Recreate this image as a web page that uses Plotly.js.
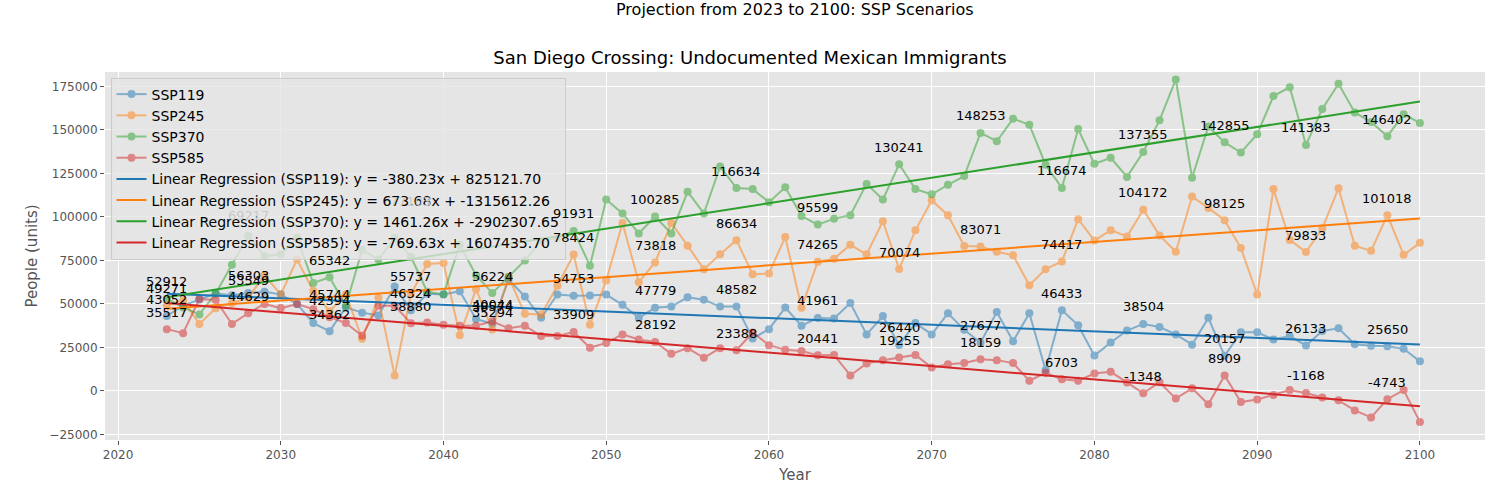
<!DOCTYPE html>
<html>
<head>
<meta charset="utf-8">
<script src="https://cdn.plot.ly/plotly-3.0.1.min.js"></script>
<style>body{margin:0;background:#fff}</style>
</head>
<body>
<div id="plot" style="width:1500px;height:500px"></div>
<script>
const years = Array.from({length: 78}, (_, i) => 2023 + i);

const ssp119 = [43052,49000,52500,56000,55000,56303,57000,55500,50000,39000,34362,48000,45000,43300,60000,46324,55800,55400,57300,41400,
  38574,64000,54300,42000,55400,54753,54900,55400,49500,42000,47779,48500,53800,52400,48500,48582,30200,35500,47900,37500,
  41961,41600,50500,32500,43000,26440,39000,32500,44600,35100,27677,45400,28600,44600,12000,46433,37700,20300,27800,34700,
  38504,36700,32500,26600,42000,20157,33700,33700,29600,31500,26133,34500,36000,26800,25900,25650,24200,17000];
const ssp245 = [49271,52000,38500,47500,50500,53549,66500,55500,75500,57500,45744,55500,30000,53500,8800,55737,73000,73500,32000,58500,
  35294,65500,44300,44000,60500,78424,38000,63500,96500,62500,73818,96500,83500,70000,78500,86634,67000,67500,88500,47800,
  74265,76000,84000,78500,97500,70074,92300,109500,101000,83300,83071,80000,78000,60700,70000,74417,98700,86400,92400,88800,
  104172,89400,80000,111700,105200,98125,82100,55400,116000,86800,79833,93300,116500,83400,80500,101018,78200,85100];
const ssp370 = [52912,48000,44000,56000,72500,89000,77500,78500,88000,62000,65342,49000,81000,75500,88000,77103,57000,55500,84000,66500,
  56224,65500,75000,86000,88000,91931,72000,110000,102000,90500,100285,90500,114500,102000,129000,116634,116000,108500,117000,100500,
  95599,99000,101000,119000,110000,130241,116000,113000,118500,123500,148253,143500,156500,153000,130000,116674,150500,130500,134000,123000,
  137355,155500,179000,122500,152000,142855,137000,147500,169500,174500,141383,162000,176500,160000,154500,146402,159000,154000];
const ssp585 = [35517,33200,52800,52300,38500,44629,50000,47600,50000,47000,42394,39000,31700,48900,48900,38880,39400,38100,37500,37500,
  40044,36000,37500,31500,31500,33909,24800,27600,32500,29600,28192,21300,24600,19000,24600,23388,33600,26300,23700,22900,
  20441,20700,8900,15800,17700,19255,20700,13400,15300,16000,18159,17700,16000,5900,10400,6703,5900,10000,11000,4900,
  -1348,5000,-4400,1500,-7700,8909,-6400,-4900,-2400,500,-1168,-3800,-5400,-11200,-15200,-4743,500,-17800];

const names = ['SSP119', 'SSP245', 'SSP370', 'SSP585'];
const colors = ['#1f77b4', '#ff7f0e', '#2ca02c', '#d62728'];
const slopes = [-380.23, 673.68, 1461.26, -769.63];
const intercepts = [825121.70, -1315612.26, -2902307.65, 1607435.70];

// value labels, every five years
const labelYears = [2023,2028,2033,2038,2043,2048,2053,2058,2063,2068,2073,2078,2083,2088,2093,2098];
const labels119 = [43052,56303,34362,46324,38574,54753,47779,48582,41961,26440,27677,46433,38504,20157,26133,25650];
const labels245 = [49271,53549,45744,55737,35294,78424,73818,86634,74265,70074,83071,74417,104172,98125,79833,101018];
const labels370 = [52912,69217,65342,77103,56224,91931,100285,116634,95599,130241,148253,116674,137355,142855,141383,146402];
const labels585 = [35517,44629,42394,38880,40044,33909,28192,23388,20441,19255,18159,6703,-1348,8909,-1168,-4743];
// labels that sit behind the legend box in the original
const hiddenLabels = [69217, 77103];

const series = [ssp119, ssp245, ssp370, ssp585];
const labelSets = [labels119, labels245, labels370, labels585];

const traces = [];
series.forEach((s, k) => {
    traces.push({
        type: 'scatter', mode: 'lines+markers', name: names[k],
        x: years, y: s, opacity: 0.5,
        line: {color: colors[k], width: 2},
        marker: {color: colors[k], size: 8}
    });
});
series.forEach((s, k) => {
    const xs = [years[0], years[years.length - 1]];
    traces.push({
        type: 'scatter', mode: 'lines',
        name: 'Linear Regression (' + names[k] + '): y = ' + slopes[k].toFixed(2) + 'x + ' + intercepts[k].toFixed(2),
        x: xs, y: xs.map(v => slopes[k] * v + intercepts[k]),
        line: {color: colors[k], width: 2}
    });
});

const annotations = [];
labelSets.forEach(set => {
    set.forEach((v, i) => {
        const hidden = hiddenLabels.includes(v);
        annotations.push({
            x: labelYears[i], y: hidden ? v + 22000 : v, text: String(v), showarrow: false,
            yshift: 17, font: {size: 13, color: hidden ? '#c8c8c8' : '#000'}
        });
    });
});

const axisCommon = {
    showgrid: true, gridcolor: '#ffffff', gridwidth: 1, zeroline: false,
    ticks: 'outside', tickcolor: '#555', ticklen: 4,
    tickfont: {size: 12, color: '#555'}, showline: false
};

const layout = {
    font: {family: 'DejaVu Sans, sans-serif', color: '#000'},
    paper_bgcolor: '#ffffff',
    plot_bgcolor: '#e5e5e5',
    margin: {l: 105, r: 15, t: 72, b: 60},
    title: {text: 'San Diego Crossing: Undocumented Mexican Immigrants', font: {size: 18}, x: 0.5, xanchor: 'center', y: 0.885, yanchor: 'middle'},
    xaxis: {...axisCommon, range: [2019.2, 2104.0], tickvals: [2020,2030,2040,2050,2060,2070,2080,2090,2100],
        title: {text: 'Year', font: {size: 15, color: '#555'}, standoff: 8}},
    yaxis: {...axisCommon, range: [-28200, 183300], tickvals: [-25000,0,25000,50000,75000,100000,125000,150000,175000],
        tickformat: 'd',
        title: {text: 'People (units)', font: {size: 15, color: '#555'}, standoff: 8}},
    legend: {x: 0.004, y: 0.985, xanchor: 'left', yanchor: 'top', bgcolor: 'rgba(229,229,229,0.8)',
        bordercolor: '#cccccc', borderwidth: 1, font: {size: 14}, tracegroupgap: 0},
    annotations: [
        ...annotations,
        {xref: 'paper', yref: 'paper', x: 0.5, xanchor: 'center', yanchor: 'middle', y: 1.17,
            text: 'Projection from 2023 to 2100: SSP Scenarios', showarrow: false, font: {size: 16}}
    ],
    showlegend: true
};

Plotly.newPlot('plot', traces, layout, {displayModeBar: false});
</script>
</body>
</html>
